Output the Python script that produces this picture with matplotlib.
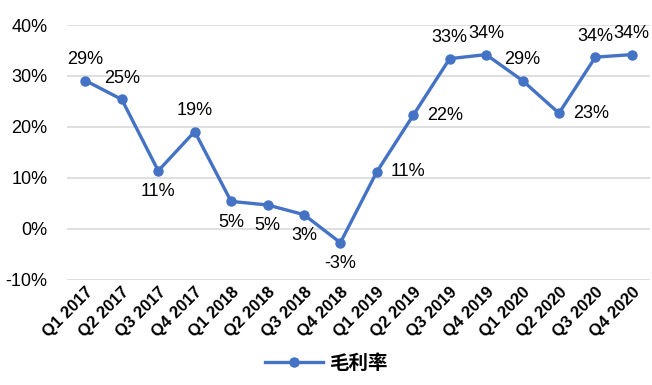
import matplotlib
matplotlib.use("Agg")
import matplotlib.pyplot as plt
from matplotlib.ticker import FuncFormatter

# data
quarters = ["Q1 2017", "Q2 2017", "Q3 2017", "Q4 2017",
            "Q1 2018", "Q2 2018", "Q3 2018", "Q4 2018",
            "Q1 2019", "Q2 2019", "Q3 2019", "Q4 2019",
            "Q1 2020", "Q2 2020", "Q3 2020", "Q4 2020"]
margin = [29.1, 25.4, 11.4, 19.1,
          5.4, 4.7, 2.8, -2.7,
          11.2, 22.3, 33.4, 34.2,
          29.1, 22.7, 33.7, 34.2]
# where each value label sits: a = above, b = below, r = right
label_pos = ["a", "a", "b", "a",
             "b", "b", "b", "b",
             "r", "r", "a", "a",
             "a", "r", "a", "a"]

blue = "#4472C4"
narrow = ["Liberation Sans Narrow", "Liberation Sans", "DejaVu Sans"]

fig = plt.figure(figsize=(6.52, 3.85), dpi=100)
ax = fig.add_axes([0.103, 0.273, 0.894, 0.662])

x = list(range(len(quarters)))
ax.plot(x, margin, color=blue, lw=2.4, marker="o", ms=6.5, label="毛利率", zorder=3)

for i, v in enumerate(margin):
    txt = "%d%%" % round(v)
    if label_pos[i] == "a":
        ax.annotate(txt, (i, v), xytext=(0, 9), textcoords="offset points",
                    ha="center", va="bottom", fontsize=13, family=narrow)
    elif label_pos[i] == "b":
        ax.annotate(txt, (i, v), xytext=(0, -9), textcoords="offset points",
                    ha="center", va="top", fontsize=13, family=narrow)
    else:
        ax.annotate(txt, (i, v), xytext=(10, 0), textcoords="offset points",
                    ha="left", va="center", fontsize=13, family=narrow)

ax.set_xlim(-0.5, len(quarters) - 0.5)
ax.set_ylim(-10, 40)
ax.set_yticks([-10, 0, 10, 20, 30, 40])
ax.yaxis.set_major_formatter(FuncFormatter(lambda v, p: "%d%%" % v))
ax.grid(axis="y", color="#D9D9D9", lw=1.2)
ax.set_axisbelow(True)
for s in ax.spines.values():
    s.set_visible(False)
ax.tick_params(length=0)
ax.tick_params(axis="y", pad=14)

ax.set_xticks(x)
ax.set_xticklabels(quarters, rotation=45, ha="right", rotation_mode="anchor",
                   fontsize=12, fontweight="bold", family=["Liberation Sans", "DejaVu Sans"])
for t in ax.get_yticklabels():
    t.set_fontsize(13)
    t.set_family(narrow)

leg = fig.legend(loc="lower center", bbox_to_anchor=(0.5, -0.015), frameon=False,
                 prop={"family": ["Noto Sans CJK SC", "DejaVu Sans"], "size": 14, "weight": "bold"},
                 handlelength=3, handletextpad=0.3)

fig.savefig("out.png", dpi=100)
